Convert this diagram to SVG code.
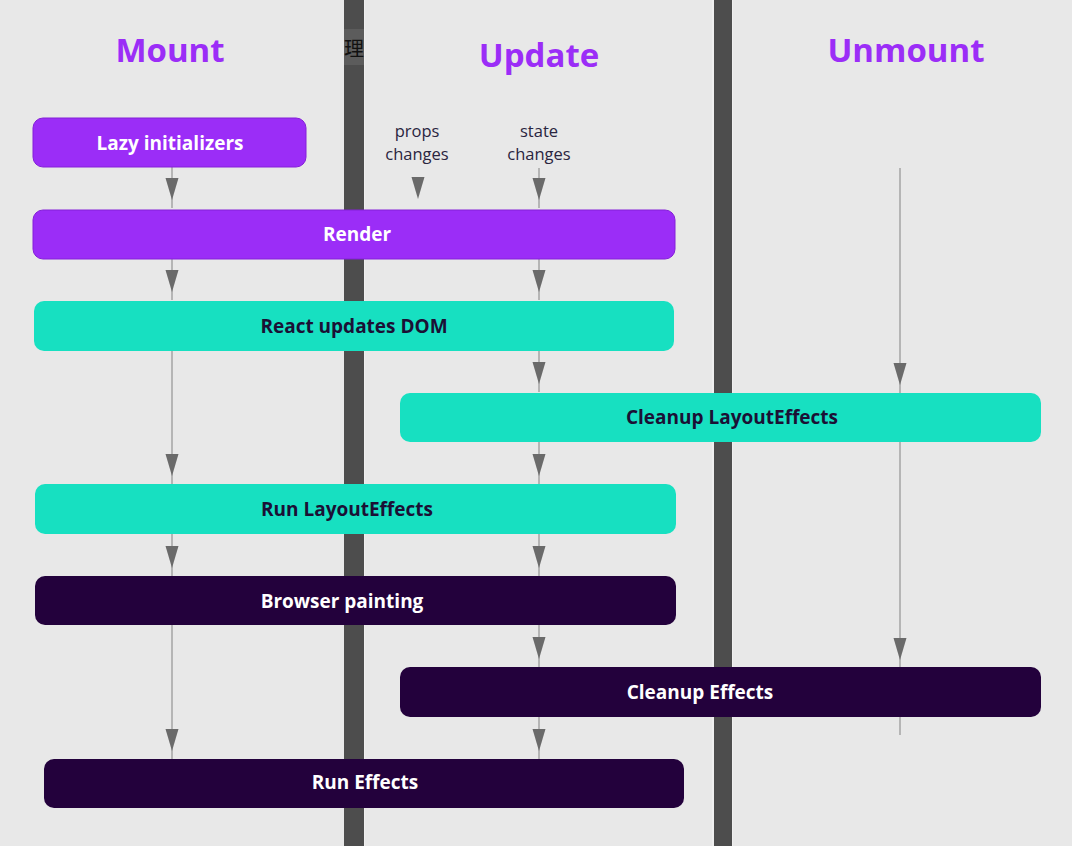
<svg xmlns="http://www.w3.org/2000/svg" width="1072" height="846" viewBox="0 0 1072 846">
<style>
.bg{fill:#e8e8e8}
.bar{fill:#4d4d4d}
.edge{fill:#efefef}
.head{font-family:"Open Sans","Noto Sans",sans-serif;font-weight:700;font-size:33px;fill:#9b2df7;text-anchor:middle}
.note{font-family:"Open Sans","Noto Sans",sans-serif;font-size:16.5px;fill:#2a2540;text-anchor:middle}
.lbl{font-family:"Open Sans","Noto Sans",sans-serif;font-weight:700;font-size:19px;text-anchor:middle;dominant-baseline:central}
.purple rect{fill:#9b2df7;stroke:#8420d8;stroke-width:1}
.purple text{fill:#ffffff}
.teal rect{fill:#17e0c1}
.teal text{fill:#1b1035}
.dark rect{fill:#23013c}
.dark text{fill:#ffffff}
.conn line{stroke:#9a9a9a;stroke-width:1.3}
.ah{fill:#6a6a6a}
</style>
<defs>
<marker id="arr" markerUnits="userSpaceOnUse" markerWidth="32" markerHeight="14" refX="30" refY="6.5" orient="auto" overflow="visible">
<path class="ah" d="M0,0 L22,6.5 L0,13 z"/>
</marker>
<clipPath id="tipclip"><rect x="344" y="29" width="20" height="36"/></clipPath>
</defs>
<rect class="bg" x="0" y="0" width="1072" height="846"/>
<g id="lanes">
<rect class="edge" x="363" y="0" width="2" height="846"/>
<rect class="bar" x="344" y="0" width="20" height="846"/>
<rect class="edge" x="712" y="0" width="2" height="846"/>
<rect class="edge" x="731" y="0" width="2" height="846"/>
<rect class="bar" x="714" y="0" width="18" height="846"/>
<rect x="344" y="29" width="20" height="36" fill="#5c5c5c"/>
<text x="344" y="56" clip-path="url(#tipclip)" font-family="'Noto Sans CJK SC',sans-serif" font-size="20" fill="#111">理解</text>
</g>
<g id="headings">
<text class="head" x="170" y="62">Mount</text>
<text class="head" x="539" y="67">Update</text>
<text class="head" x="906" y="62">Unmount</text>
<text class="note" x="417" y="137">props</text>
<text class="note" x="417" y="160">changes</text>
<text class="note" x="539" y="137">state</text>
<text class="note" x="539" y="160">changes</text>
</g>
<g id="connectors" class="conn">
<line x1="172" y1="167" x2="172" y2="208" marker-end="url(#arr)"/>
<line x1="172" y1="259" x2="172" y2="300" marker-end="url(#arr)"/>
<line x1="172" y1="351" x2="172" y2="484" marker-end="url(#arr)"/>
<line x1="172" y1="534" x2="172" y2="576" marker-end="url(#arr)"/>
<line x1="172" y1="625" x2="172" y2="759" marker-end="url(#arr)"/>
<polygon class="ah" points="411.5,177 424.5,177 418,199"/>
<line x1="539" y1="168" x2="539" y2="208" marker-end="url(#arr)"/>
<line x1="539" y1="259" x2="539" y2="300" marker-end="url(#arr)"/>
<line x1="539" y1="351" x2="539" y2="392" marker-end="url(#arr)"/>
<line x1="539" y1="442" x2="539" y2="484" marker-end="url(#arr)"/>
<line x1="539" y1="534" x2="539" y2="576" marker-end="url(#arr)"/>
<line x1="539" y1="625" x2="539" y2="667" marker-end="url(#arr)"/>
<line x1="539" y1="717" x2="539" y2="759" marker-end="url(#arr)"/>
<line x1="900" y1="168" x2="900" y2="393" marker-end="url(#arr)"/>
<line x1="900" y1="442" x2="900" y2="668" marker-end="url(#arr)"/>
<line x1="900" y1="717" x2="900" y2="735"/>
</g>
<g id="lazy" class="purple"><rect x="33" y="118" width="273" height="49" rx="10"/><text class="lbl" x="170" y="143">Lazy initializers</text></g>
<g id="render" class="purple"><rect x="33" y="210" width="642" height="49" rx="10"/><text class="lbl" x="357" y="234">Render</text></g>
<g id="dom" class="teal"><rect x="34" y="301" width="640" height="50" rx="10"/><text class="lbl" x="354" y="326">React updates DOM</text></g>
<g id="cleanupLayout" class="teal"><rect x="400" y="393" width="641" height="49" rx="10"/><text class="lbl" x="732" y="417">Cleanup LayoutEffects</text></g>
<g id="runLayout" class="teal"><rect x="35" y="484" width="641" height="50" rx="10"/><text class="lbl" x="347" y="509">Run LayoutEffects</text></g>
<g id="paint" class="dark"><rect x="35" y="576" width="641" height="49" rx="10"/><text class="lbl" x="342" y="601">Browser painting</text></g>
<g id="cleanupEffects" class="dark"><rect x="400" y="667" width="641" height="50" rx="10"/><text class="lbl" x="700" y="692">Cleanup Effects</text></g>
<g id="runEffects" class="dark"><rect x="44" y="759" width="640" height="49" rx="10"/><text class="lbl" x="365" y="782">Run Effects</text></g>
</svg>
